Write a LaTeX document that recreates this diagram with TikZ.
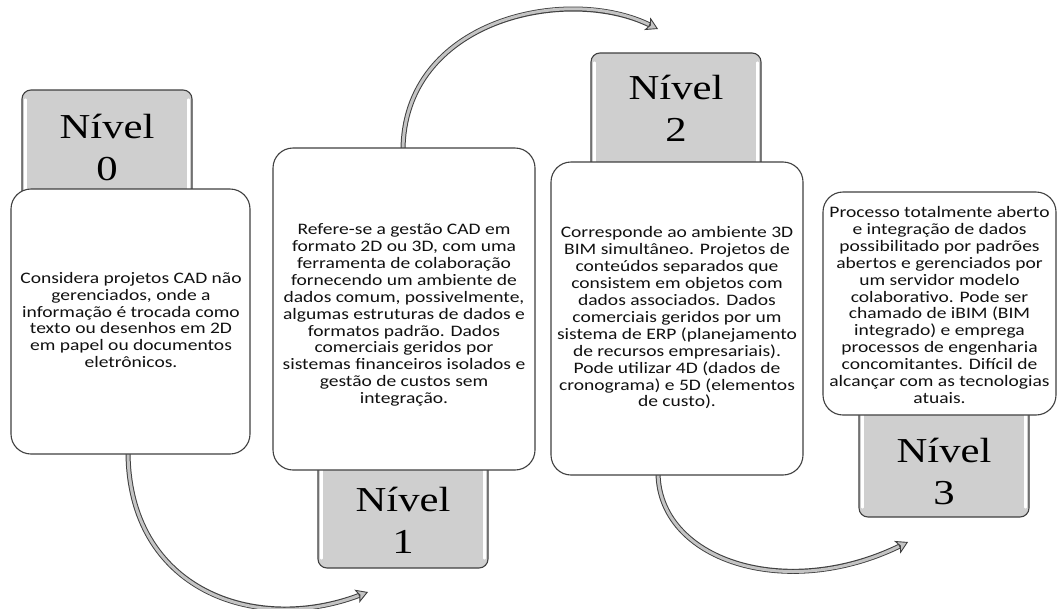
\documentclass[tikz,border=0pt]{standalone}
\usepackage{fontspec}
\usetikzlibrary{arrows.meta,calc}
\newfontfamily\calib[FakeStretch=1.22]{Carlito}
\newfontfamily\tms[FakeStretch=1.22]{Liberation Serif}
\definecolor{edge}{HTML}{404040}
\definecolor{tabfill}{HTML}{CFCFCF}
\definecolor{arrowfill}{HTML}{C4C4C4}
\definecolor{txt}{HTML}{111111}
\begin{document}
\begin{tikzpicture}[x=1pt,y=-1pt,
  card/.style={draw=edge, line width=1.1pt, fill=white, rounded corners=20pt, inner sep=0pt},
  cardtext/.style={inner sep=0pt, align=center, text=txt, font=\calib\fontsize{16}{16.9}\selectfont},
  tab/.style={draw=edge, line width=1.1pt, fill=tabfill, rounded corners=9pt,
    minimum width=170pt, minimum height=140pt, inner sep=0pt},
  shine/.style={white, line width=2.2pt, line cap=round},
  tablabel/.style={font=\tms\fontsize{35}{42}\selectfont, align=center, inner sep=0pt},
  arrowout/.style={draw=edge, line width=5pt,
    -{Stealth[length=12pt,width=14pt,inset=3pt,line width=0.9pt,fill=arrowfill]}},
  arrowin/.style={draw=arrowfill, line width=3pt, shorten >=10pt}
]
\useasboundingbox (0,0) rectangle (1059,608);
\fill[white] (0,0) rectangle (1059,608);

% grey tabs
\node[tab] (tab0) at (107,160) {};
\node[tab] (tab1) at (403,498) {};
\node[tab] (tab2) at (676,123) {};
\node[tab] (tab3) at (944,447) {};
\foreach \t in {tab0,tab1,tab2,tab3}{
  \draw[shine] ($(\t.north west)+(4,10)$) -- ($(\t.south west)+(4,-10)$);
  \draw[shine] ($(\t.north east)+(-4,10)$) -- ($(\t.south east)+(-4,-10)$);
}

% arrows (drawn before the cards so their starts tuck under the borders)
\coordinate (a0s) at (128,451);
\coordinate (a0e) at (368,592);
\coordinate (a1s) at (403,151);
\coordinate (a1e) at (658,29);
\coordinate (a2s) at (658,472);
\coordinate (a2e) at (908,542);
\draw[arrowout] (a0s) .. controls (128,590) and (255,635) .. (a0e);
\draw[arrowin]  (a0s) .. controls (128,590) and (255,635) .. (a0e);
\draw[arrowout] (a1s) .. controls (403,20) and (566,-16) .. (a1e);
\draw[arrowin]  (a1s) .. controls (403,20) and (566,-16) .. (a1e);
\draw[arrowout] (a2s) .. controls (658,560) and (785,602) .. (a2e);
\draw[arrowin]  (a2s) .. controls (658,560) and (785,602) .. (a2e);

% white cards
\node[card, minimum width=239pt, minimum height=265pt] (card0) at (130.5,321.5) {};
\node[card, minimum width=262pt, minimum height=322pt] (card1) at (404,309) {};
\node[card, minimum width=252pt, minimum height=313pt] (card2) at (677,318.5) {};
\node[card, minimum width=233pt, minimum height=223pt] (card3) at (939.5,303.5) {};

\node[cardtext] (txt0) at (131,320)
  {Considera projetos CAD não\\gerenciados, onde a\\informação é trocada como\\texto ou desenhos em 2D\\em papel ou documentos\\eletrônicos.};
\node[cardtext] (txt1) at (404,315)
  {Refere-se a gestão CAD em\\formato 2D ou 3D, com uma\\ferramenta de colaboração\\fornecendo um ambiente de\\dados comum, possivelmente,\\algumas estruturas de dados e\\formatos padrão. Dados\\comerciais geridos por\\sistemas financeiros isolados e\\gestão de custos sem\\integração.};
\node[cardtext] (txt2) at (677,318)
  {Corresponde ao ambiente 3D\\BIM simultâneo. Projetos de\\conteúdos separados que\\consistem em objetos com\\dados associados. Dados\\comerciais geridos por um\\sistema de ERP (planejamento\\de recursos empresariais).\\Pode utilizar 4D (dados de\\cronograma) e 5D (elementos\\de custo).};
\node[cardtext] (txt3) at (939.5,305)
  {Processo totalmente aberto\\e integração de dados\\possibilitado por padrões\\abertos e gerenciados por\\um servidor modelo\\colaborativo. Pode ser\\chamado de iBIM (BIM\\integrado) e emprega\\processos de engenharia\\concomitantes. Difícil de\\alcançar com as tecnologias\\atuais.};

% tab labels
\node[tablabel] (lab0) at (107,147) {Nível\\0};
\node[tablabel] (lab1) at (403,520) {Nível\\1};
\node[tablabel] (lab2) at (676,108) {Nível\\2};
\node[tablabel] (lab3) at (944,471) {Nível\\3};
\end{tikzpicture}
\end{document}
